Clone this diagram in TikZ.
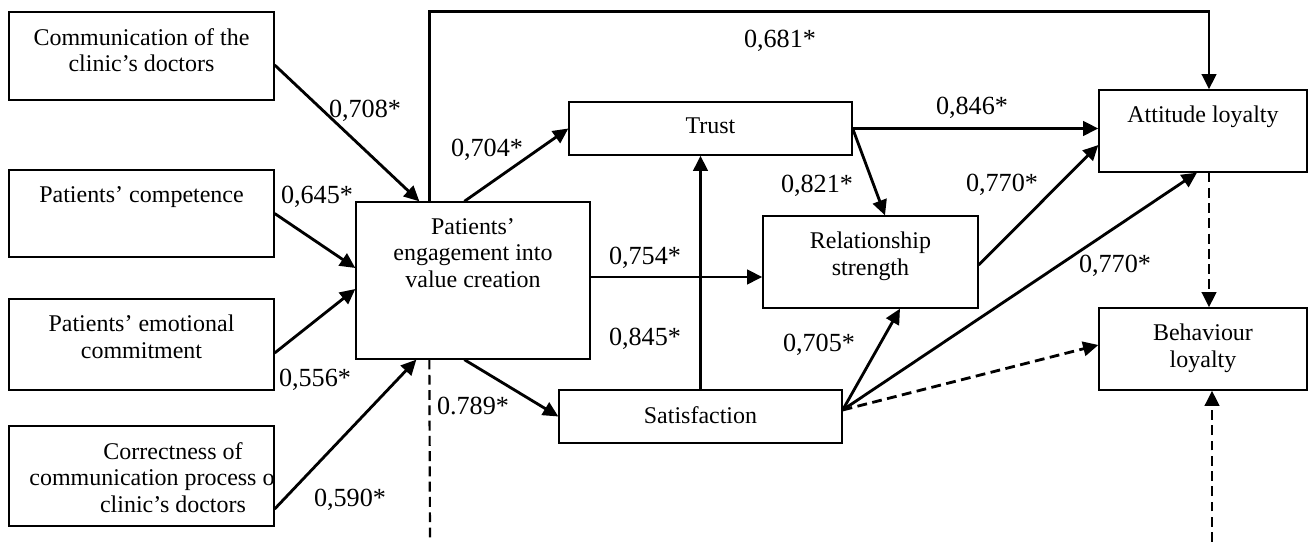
\documentclass[tikz,border=0pt]{standalone}
\usepackage{fontspec}
\setmainfont{Liberation Serif}
\usetikzlibrary{arrows.meta,calc}
\newcommand*{\enh}{0.4587pt}
\tikzset{
    %Define style for boxes
    boks/.style={
           rectangle,
           draw=black, line width=0.6pt,
           inner sep=0pt},
    % Define style for the text in the boxes
    tekst/.style={
           anchor=north,
           yshift=-7.5pt,
           inner sep=0pt,
           align=center,
           font=\fontsize{11}{12.2}\selectfont},
    % Define style for the coefficients
    tall/.style={
           anchor=base,
           inner sep=0pt,
           font=\fontsize{12}{14}\selectfont},
    % Define arrow style
    pil/.style={
           -{Triangle[length=7pt,width=6.6pt]},
           line width=1.3pt},
    % Dashed arrow
    stiplet/.style={
           pil,
           dash pattern=on 4.5pt off 2.5pt}
}
\newcommand*{\bnode}[6]{\node[boks, minimum width={(#4-#2)*\enh}, minimum height={(#5-#3)*\enh}, label={[tekst]north:#6}] (#1) at ({(#2+#4)/2},{(#3+#5)/2}) {};}

\begin{document}
\begin{tikzpicture}[x=\enh, y=-\enh]
\useasboundingbox (0,0) rectangle (1308,542);
% Boxes: name, left, top, right, bottom, text
\bnode{k1}{9}{12}{274}{100}{Communication of the\\clinic's doctors}
\bnode{k2}{9}{170}{274}{257}{Patients' competence}
\bnode{k3}{9}{299}{274}{390}{Patients' emotional\\commitment}
\bnode{eng}{356}{202}{590}{359}{Patients'\\engagement into\\value creation}
\bnode{trust}{569}{102}{852}{155}{Trust}
\bnode{rel}{763}{216}{978}{308}{Relationship\\strength}
\bnode{sat}{559}{390}{842}{443}{Satisfaction}
\bnode{att}{1099}{90}{1307}{172}{Attitude loyalty}
\bnode{beh}{1099}{308}{1307}{390}{Behaviour\\loyalty}

% The last box: its middle line runs out of the box and is cut off
\node[boks, minimum width={265*\enh}, minimum height={100*\enh}] (k4) at (141.5,476) {};
\begin{scope}
\clip (k4.north west) rectangle (k4.south east);
\node[tekst] (k4t) at ($(k4.north)+(31.5,0)$) {Correctness of\\\makebox[131.7pt][l]{communication process o}\\clinic's doctors};
\end{scope}

% Free ends at the bottom
\coordinate (ned1) at (430,542);
\coordinate (ned2) at (1212,542);

% Now connect the nodes
\draw[pil] ($(k1.east)+(0,9)$) -- ($(eng.north west)+(64,0)$);
\draw[pil] (k2.east) -- ($(eng.west)+(0,-12.5)$);
\draw[pil] ($(k3.east)+(0,8.5)$) -- ($(eng.west)+(0,8.5)$);
\draw[pil] ($(k4.east)+(0,33)$) -- ($(eng.south west)+(61,0)$);
\draw[pil] ($(eng.north west)+(109,0)$) -- (trust.west);
\draw[pil] ($(eng.east)+(0,-3.5)$) -- ($(rel.west)+(0,15)$);
\draw[pil] ($(eng.south west)+(109,0)$) -- (sat.west);
\draw[pil] (sat.north) -- (sat.north |- trust.south);
\draw[pil] (trust.east) -- (trust.east -| att.west);
\draw[pil] (trust.east) -- ($(rel.north)+(14.5,0)$);
\draw[pil] ($(rel.east)+(0,3)$) -- ($(att.west)+(0,14)$);
\draw[pil] ($(sat.east)+(0,-6.5)$) -- ($(rel.south)+(29.5,0)$);
\draw[pil] ($(sat.east)+(0,-6.5)$) -- ($(att.south)+(-6,0)$);
\draw[pil] ($(eng.north west)+(74,0)$) -- ++(0,-190) -| ($(att.north)+(6,0)$);
\draw[stiplet] ($(sat.east)+(0,-6.5)$) -- ($(beh.west)+(0,-4)$);
\draw[stiplet] ($(att.south)+(6,0)$) -- ($(beh.north)+(6,0)$);
\draw[stiplet] (ned2) -- ($(beh.south)+(9,0)$);
\draw[stiplet, -, line width=1pt] ($(eng.south west)+(74,0)$) -- (ned1);

% Coefficients
\node[tall] (n708) at (365,118) {0,708*};
\node[tall] (n645) at (317,204) {0,645*};
\node[tall] (n556) at (315,387) {0,556*};
\node[tall] (n590) at (350,507) {0,590*};
\node[tall] (n789) at (473,415) {0.789*};
\node[tall] (n704) at (487,157) {0,704*};
\node[tall] (n681) at (780,48) {0,681*};
\node[tall] (n821) at (817,193) {0,821*};
\node[tall] (n754) at (645,265) {0,754*};
\node[tall] (n845) at (645,346) {0,845*};
\node[tall] (n705) at (819,352) {0,705*};
\node[tall] (n846) at (972,115) {0,846*};
\node[tall] (n770a) at (1002,192) {0,770*};
\node[tall] (n770b) at (1115,273) {0,770*};
\end{tikzpicture}
\end{document}
